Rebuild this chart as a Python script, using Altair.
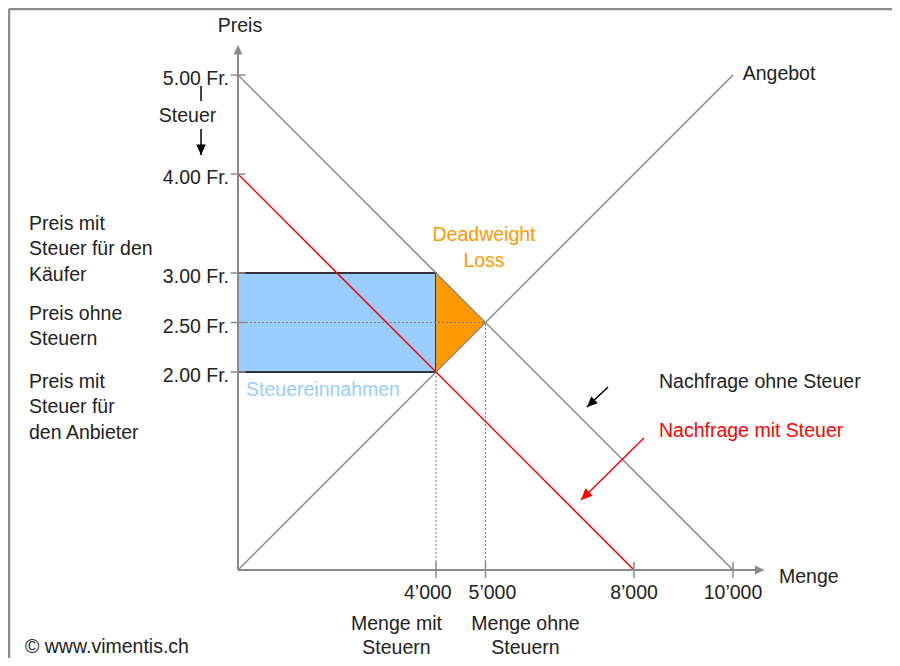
import math
import altair as alt
import pandas as pd

# ---------------- data values ----------------
qty_ticks = [4000, 5000, 8000, 10000]
qty_labels = ["4’000", "5’000", "8’000", "10’000"]
price_ticks = [5.0, 4.0, 3.0, 2.5, 2.0]
price_labels = ["5.00 Fr.", "4.00 Fr.", "3.00 Fr.", "2.50 Fr.", "2.00 Fr."]

demand_q = [0, 10000]
demand_p = [5.0, 0.0]
demand_tax_q = [0, 8000]
demand_tax_p = [4.0, 0.0]
supply_q = [0, 10000]
supply_p = [0.0, 5.0]

q_tax, q_free = 4000, 5000
p_buyer, p_free, p_seller = 3.0, 2.5, 2.0

# ---------------- layout ----------------
W, H = 884, 650
X_DOMAIN = [-4646.5, 13212.1]
Y_DOMAIN = [-0.8889, 5.6768]
PXX = W / (X_DOMAIN[1] - X_DOMAIN[0])   # px per quantity unit
PXY = H / (Y_DOMAIN[1] - Y_DOMAIN[0])   # px per price unit

GRAY = "#8a8a8a"
TXT = "#222222"
RED = "#ff0000"
BLUE = "#99ccff"
ORANGE = "#ff9900"
FONT = "Liberation Sans"
FS = 19.5

xs = alt.Scale(domain=X_DOMAIN, nice=False, zero=False)
ys = alt.Scale(domain=Y_DOMAIN, nice=False, zero=False)


def X(f="x"):
    return alt.X(f"{f}:Q", scale=xs, axis=None)


def Y(f="y"):
    return alt.Y(f"{f}:Q", scale=ys, axis=None)


def segs(rows, color, width, dash=None):
    df = pd.DataFrame(rows, columns=["x", "y", "x2", "y2"])
    kw = dict(color=color, strokeWidth=width)
    if dash:
        kw["strokeDash"] = dash
    return alt.Chart(df).mark_rule(**kw).encode(
        x=X(), y=Y(), x2="x2:Q", y2="y2:Q")


layers = []

# frame
fx, fy = X_DOMAIN[0] + 1 / PXX, Y_DOMAIN[1] - 1 / PXY
layers.append(segs([[fx, fy, X_DOMAIN[1], fy], [fx, fy, fx, Y_DOMAIN[0]]], "#8c8c8c", 2.5))

# tax revenue rectangle
rect_df = pd.DataFrame({"x": [0], "x2": [q_tax], "y": [p_seller], "y2": [p_buyer]})
layers.append(alt.Chart(rect_df).mark_rect(fill=BLUE, stroke="#333333", strokeWidth=2).encode(
    x=X(), x2="x2:Q", y=Y(), y2="y2:Q"))

# deadweight loss triangle
dwl_df = pd.DataFrame({"x": [q_tax, q_free], "y": [p_buyer, p_free], "y2": [p_seller, p_free]})
layers.append(alt.Chart(dwl_df).mark_area(color=ORANGE, opacity=1).encode(
    x=X(), y=Y(), y2="y2:Q"))

# dotted guides
layers.append(segs([[0, p_free, q_free, p_free],
                    [q_tax, 0, q_tax, p_seller],
                    [q_free, 0, q_free, p_free]], "#777777", 1, [2, 2]))

# curves
layers.append(segs([[demand_q[0], demand_p[0], demand_q[1], demand_p[1]],
                    [supply_q[0], supply_p[0], supply_q[1], supply_p[1]]], GRAY, 1.5))
layers.append(segs([[demand_tax_q[0], demand_tax_p[0], demand_tax_q[1], demand_tax_p[1]]], RED, 1.5))

# axes
x_end = 10636
y_end = 5.303
layers.append(segs([[0, 0, x_end - 6 / PXX, 0], [0, 0, 0, y_end - 6 / PXY]], GRAY, 2))

# ticks
tx = 7.5 / PXX
ty = 8 / PXY
layers.append(segs([[-tx, p, tx, p] for p in price_ticks] +
                   [[q, -ty, q, ty] for q in qty_ticks], GRAY, 1.5))

# annotation arrows
arrows = [
    [0, 0, x_end, 0, GRAY, 256],
    [0, 0, 0, y_end, GRAY, 256],
    [-747, 4.455, -747, 4.192, "#000000", 300],
    [7475, 1.848, 7051, 1.646, "#000000", 300],
    [8202, 1.333, 6929, 0.707, RED, 360],
]
shaft_rows = []
head_rows = []
for x1, y1, x2, y2, c, s in arrows:
    dxp = (x2 - x1) * PXX
    dyp = -(y2 - y1) * PXY
    ang = math.degrees(math.atan2(dxp, -dyp)) % 360
    head_rows.append({"x": x2, "y": y2, "angle": ang, "c": c, "s": s})
    if c != GRAY:
        shaft_rows.append({"x": x1, "y": y1, "x2": x2, "y2": y2, "c": c})
shaft_df = pd.DataFrame(shaft_rows)
layers.append(alt.Chart(shaft_df).mark_rule(strokeWidth=1.5).encode(
    x=X(), y=Y(), x2="x2:Q", y2="y2:Q", color=alt.Color("c:N", scale=None)))
layers.append(segs([[-747, 4.889, -747, 4.737]], "#000000", 1.5))
head_df = pd.DataFrame(head_rows)
layers.append(alt.Chart(head_df).mark_point(
    shape="M0,0 L-0.55,1.2 L0.55,1.2 Z", filled=True, opacity=1, strokeWidth=0).encode(
    x=X(), y=Y(), angle=alt.Angle("angle:Q", scale=None),
    color=alt.Color("c:N", scale=None), size=alt.Size("s:Q", scale=None)))

# texts
left_texts = [
    ["Preis mit", -4222, 3.495, TXT],
    ["Steuer für den", -4222, 3.242, TXT],
    ["Käufer", -4222, 2.980, TXT],
    ["Preis ohne", -4222, 2.586, TXT],
    ["Steuern", -4222, 2.333, TXT],
    ["Preis mit", -4222, 1.899, TXT],
    ["Steuer für", -4222, 1.646, TXT],
    ["den Anbieter", -4222, 1.384, TXT],
    ["Steuereinnahmen", 162, 1.818, BLUE],
    ["Nachfrage ohne Steuer", 8505, 1.894, TXT],
    ["Nachfrage mit Steuer", 8505, 1.409, RED],
    ["Angebot", 10196, 5.015, TXT],
    ["Menge", 10929, -0.071, TXT],
    ["© www.vimentis.ch", -4303, -0.778, TXT],
]
label_shift = {4000: -165, 5000: 140}
center_texts = [
    ["Preis", 40, 5.50, TXT],
    ["Steuer", -1020, 4.586, TXT],
    ["Deadweight", 4970, 3.384, ORANGE],
    ["Loss", 4970, 3.121, ORANGE],
    ["Menge mit", 3202, -0.545, TXT],
    ["Steuern", 3202, -0.785, TXT],
    ["Menge ohne", 5808, -0.545, TXT],
    ["Steuern", 5808, -0.785, TXT],
] + [[lab, q + label_shift.get(q, 0), -0.232, TXT] for q, lab in zip(qty_ticks, qty_labels)]
right_texts = [[lab, -182, p - 4 / PXY, TXT] for p, lab in zip(price_ticks, price_labels)]

for rows, al in [(left_texts, "left"), (center_texts, "center"), (right_texts, "right")]:
    df = pd.DataFrame(rows, columns=["t", "x", "y", "c"])
    layers.append(alt.Chart(df).mark_text(
        align=al, baseline="middle", font=FONT, fontSize=FS).encode(
        x=X(), y=Y(), text="t:N", color=alt.Color("c:N", scale=None)))

chart = alt.layer(*layers).properties(
    width=W, height=H, autosize=alt.AutoSizeParams(type="none"), padding=0
).configure_view(stroke=None).configure(background="white")

chart.save("out.html", embed_options={"renderer": "svg", "actions": False})
